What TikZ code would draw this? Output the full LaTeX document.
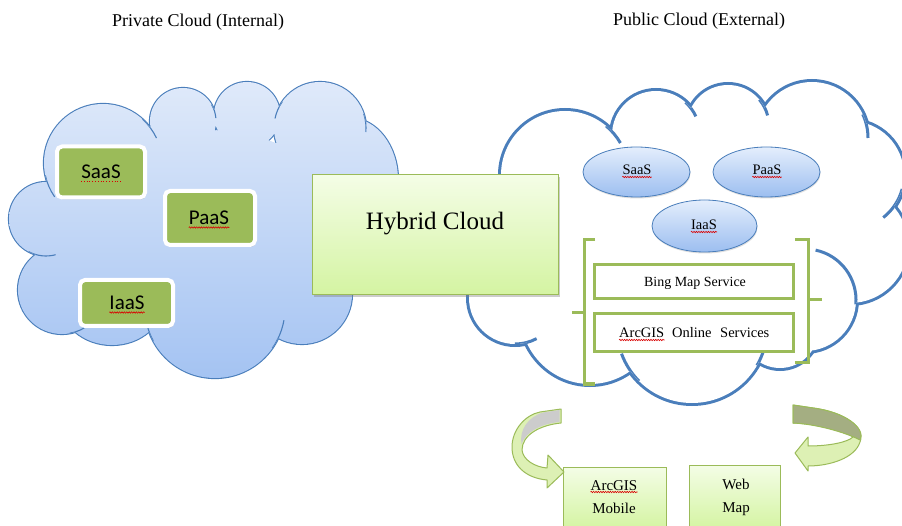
\documentclass[tikz,border=0pt]{standalone}
\usepackage{fontspec}
\setmainfont{Liberation Serif}
\newfontfamily\calib{Carlito}
\usetikzlibrary{shapes.geometric,shadows,decorations.pathmorphing,calc}

\definecolor{cloudline}{HTML}{4A7EBB}
\definecolor{cloudtop}{HTML}{E0EAFA}
\definecolor{cloudbot}{HTML}{A4C3F2}
\definecolor{leafgreen}{HTML}{9BBB59}
\definecolor{palegreenA}{HTML}{F4FDE6}
\definecolor{palegreenB}{HTML}{D4F4A2}
\definecolor{ovaltop}{HTML}{E4EEFC}
\definecolor{ovalbot}{HTML}{9CBEF0}
\definecolor{backolive}{HTML}{A4AE82}
\definecolor{bandfill}{HTML}{DDF0B4}

% puffs of each cloud: centre x / centre y / x radius / y radius
\def\privpuffs{46/219/37/37, 103/163/59/59, 183/121/33/33, 247/115/33/33,
  320/128/46/46, 350/180/48/62, 302/294/50/50, 215/308/70/70,
  112/300/52/45, 62/290/44/44}
\def\pubpuffs{515/298/46/46, 565/175/64/64, 656/135/44/44, 728/126/41/41,
  812/138/56/56, 850/175/54/54, 850/245/58/58, 805/300/51/51,
  780/330/38/38, 692/328/75/75, 590/312/70/72}
% the unbordered core that fills the middle of each cloud
\def\privcore{(205,225) ellipse[x radius=140, y radius=95]}
\def\pubcore{(690,240) ellipse[x radius=160, y radius=105]}

% an arc of a puff circle, used for the creases inside a cloud
\newcommand\puffcrease[6]{%
  \draw[#1] ({#2+#4*cos(#5)},{#3+#4*sin(#5)}) arc[start angle=#5, end angle=#6, radius=#4];}

\begin{document}
\begin{tikzpicture}[x=1pt,y=-1pt,
  svcbox/.style={draw=white, line width=4pt, fill=leafgreen, rounded corners=5pt,
    drop shadow={shadow xshift=1pt, shadow yshift=-2pt, opacity=0.35}},
  oval/.style={ellipse, draw=cloudline, line width=0.8pt, top color=ovaltop, bottom color=ovalbot,
    drop shadow={shadow xshift=0.5pt, shadow yshift=-1.5pt, opacity=0.25}},
  greenpanel/.style={draw=leafgreen, line width=1pt, top color=palegreenA, bottom color=palegreenB},
  mapbox/.style={draw=leafgreen, line width=3pt, fill=white},
  bracketline/.style={draw=leafgreen, line width=3pt},
  txt/.style={inner sep=0pt},
  spell/.style={draw=red!85!black, line width=0.6pt, decorate,
    decoration={snake, amplitude=0.7pt, segment length=2.4pt}},
  privcrease/.style={draw=cloudline, line width=1.1pt},
  pubcrease/.style={draw=cloudline, line width=3pt},
  band/.style={draw=leafgreen, line width=1pt, fill=bandfill, line join=round}]
\useasboundingbox (0,0) rectangle (902,526);

% titles
\node[txt, anchor=base] (ttlpriv) at (198,27) {\fontsize{18}{21}\selectfont Private Cloud (Internal)};
\node[txt, anchor=base] (ttlpub) at (699,26) {\fontsize{18}{21}\selectfont Public Cloud (External)};

% ---- private cloud: outline, shaded body, creases
\foreach \cx/\cy/\rx/\ry in \privpuffs
  \draw[cloudline, line width=2.2pt] (\cx,\cy) ellipse[x radius=\rx, y radius=\ry];
\begin{scope}
  \clip foreach \cx/\cy/\rx/\ry in \privpuffs {(\cx,\cy) ellipse[x radius=\rx, y radius=\ry]} \privcore;
  \shade[top color=cloudtop, bottom color=cloudbot] (0,78) rectangle (402,380);
  \puffcrease{privcrease}{103}{163}{59}{168}{145}
  \puffcrease{privcrease}{46}{219}{37}{118}{75}
  \puffcrease{privcrease}{103}{163}{59}{-48}{-25}
  \puffcrease{privcrease}{183}{121}{33}{-30}{-5}
  \puffcrease{privcrease}{320}{128}{46}{215}{192}
  \puffcrease{privcrease}{320}{128}{46}{-18}{5}
  \puffcrease{privcrease}{62}{290}{44}{80}{50}
  \puffcrease{privcrease}{215}{308}{70}{152}{178}
  \puffcrease{privcrease}{215}{308}{70}{35}{10}
\end{scope}

% ---- public cloud: outline, white body, creases
\foreach \cx/\cy/\rx/\ry in \pubpuffs
  \draw[cloudline, line width=6pt] (\cx,\cy) ellipse[x radius=\rx, y radius=\ry];
\begin{scope}
  \clip foreach \cx/\cy/\rx/\ry in \pubpuffs {(\cx,\cy) ellipse[x radius=\rx, y radius=\ry]} \pubcore;
  \fill[white] (460,70) rectangle (910,410);
  \puffcrease{pubcrease}{565}{175}{64}{-50}{-30}
  \puffcrease{pubcrease}{656}{135}{44}{-48}{-25}
  \puffcrease{pubcrease}{728}{126}{41}{-40}{-15}
  \puffcrease{pubcrease}{812}{138}{56}{-25}{0}
  \puffcrease{pubcrease}{850}{175}{54}{15}{52}
  \puffcrease{pubcrease}{805}{300}{51}{-78}{5}
  \puffcrease{pubcrease}{515}{298}{46}{90}{62}
  \puffcrease{pubcrease}{692}{328}{75}{135}{160}
  \puffcrease{pubcrease}{692}{328}{75}{30}{10}
\end{scope}

% hybrid cloud panel
\node[greenpanel, minimum width=246pt, minimum height=120pt,
  drop shadow={shadow xshift=2pt, shadow yshift=-2.5pt, opacity=0.4}] (hyb) at (435,235) {};
\node[txt, anchor=base] (hybt) at (435,230) {\fontsize{25}{28}\selectfont Hybrid Cloud};

% private services
\node[svcbox, minimum width=88pt, minimum height=51pt] (saasL) at (101,172) {};
\node[svcbox, minimum width=90pt, minimum height=54pt] (paasL) at (210,218) {};
\node[svcbox, minimum width=93pt, minimum height=46pt] (iaasL) at (126.5,303) {};
\node[txt, anchor=base] (saasLt) at (101,179) {\calib\fontsize{21}{24}\selectfont SaaS};
\node[txt, anchor=base] (paasLt) at (209,225) {\calib\fontsize{21}{24}\selectfont PaaS};
\node[txt, anchor=base] (iaasLt) at (127,310) {\calib\fontsize{21}{24}\selectfont IaaS};
\draw[red!85!black, line width=0.8pt, dotted] ([yshift=-2.5pt]saasLt.base west) -- ([yshift=-2.5pt]saasLt.base east);
\draw[spell] ([yshift=-2.5pt]paasLt.base west) -- ([yshift=-2.5pt]paasLt.base east);
\draw[spell] ([yshift=-2.5pt]iaasLt.base west) -- ([yshift=-2.5pt]iaasLt.base east);

% public services
\node[oval, minimum width=107pt, minimum height=50pt] (saasR) at (636.5,172) {};
\node[oval, minimum width=107pt, minimum height=50pt] (paasR) at (766.5,172) {};
\node[oval, minimum width=105pt, minimum height=52pt] (iaasR) at (704.5,226) {};
\node[txt, anchor=base] (saasRt) at (637,175) {\fontsize{14.5}{17}\selectfont SaaS};
\node[txt, anchor=base] (paasRt) at (767,175) {\fontsize{14.5}{17}\selectfont PaaS};
\node[txt, anchor=base] (iaasRt) at (704,230) {\fontsize{14.5}{17}\selectfont IaaS};
\foreach \w in {saasRt,paasRt,iaasRt}
  \draw[spell] ([yshift=-2pt]\w.base west) -- ([yshift=-2pt]\w.base east);

% bracket around the map services
\draw[bracketline] (595,240) -- (584,240) -- (584,384) -- (595,384);
\draw[bracketline] (584,313) -- (572,313);
\draw[bracketline] (795,240) -- (808,240) -- (808,363) -- (795,363);
\draw[bracketline] (808,300) -- (822,300);

\node[mapbox, minimum width=199pt, minimum height=34pt] (bing) at (694,281.5) {};
\node[mapbox, minimum width=199pt, minimum height=38pt] (agol) at (694,332.5) {};
\node[txt, anchor=base] (bingt) at (695,287) {\fontsize{14}{17}\selectfont Bing Map Service};
\node[txt, anchor=base west] (agolA) at (619,338) {\fontsize{14.5}{17}\selectfont ArcGIS};
\node[txt, anchor=base west] (agolB) at (672,338) {\fontsize{14.5}{17}\selectfont Online};
\node[txt, anchor=base west] (agolC) at (720,338) {\fontsize{14.5}{17}\selectfont Services};
\draw[spell] ([yshift=-2pt]agolA.base west) -- ([yshift=-2pt]agolA.base east);

% client applications
\node[greenpanel, minimum width=103pt, minimum height=62pt] (mob) at (614.5,498) {};
\node[greenpanel, minimum width=91pt, minimum height=64pt] (web) at (734.5,497) {};
\node[txt, anchor=base] (mobA) at (614,490) {\fontsize{15}{18}\selectfont ArcGIS};
\node[txt, anchor=base] (mobB) at (614,513) {\fontsize{15}{18}\selectfont Mobile};
\draw[spell] ([yshift=-2pt]mobA.base west) -- ([yshift=-2pt]mobA.base east);
\node[txt, anchor=base] (webA) at (736,489) {\fontsize{15}{18}\selectfont Web};
\node[txt, anchor=base] (webB) at (736,512) {\fontsize{15}{18}\selectfont Map};

% curved arrow down to the mobile client
\draw[band] (540,412) -- (561,409) -- (561,423)
  .. controls (540,425) and (522,435) .. (522,450)
  .. controls (523,460) and (535,467) .. (547,468) -- (548,455)
  -- (564,472) -- (547,488) -- (547,480)
  .. controls (525,478) and (512,465) .. (512,447)
  .. controls (512,430) and (525,415) .. (540,412) -- cycle;
\fill[gray!40] (543,412.5) -- (559.5,410) -- (559.5,422)
  .. controls (540,424) and (526,432) .. (521.5,444)
  .. controls (519,430) and (528,417) .. (543,412.5) -- cycle;

% curved arrow back to the web map
\draw[band] (793,405) -- (813,408)
  .. controls (845,412) and (866,428) .. (860,442)
  .. controls (855,458) and (830,466) .. (808,466) -- (808,471)
  -- (795,453) -- (808,437) -- (808,446)
  .. controls (830,446) and (848,442) .. (853,437)
  .. controls (840,428) and (815,424) .. (793,423) -- cycle;
\filldraw[fill=backolive, draw=leafgreen, line width=1pt, line join=round] (793,405) -- (813,408)
  .. controls (845,412) and (866,428) .. (860,440)
  .. controls (845,432) and (815,424) .. (793,423) -- cycle;
\end{tikzpicture}
\end{document}
